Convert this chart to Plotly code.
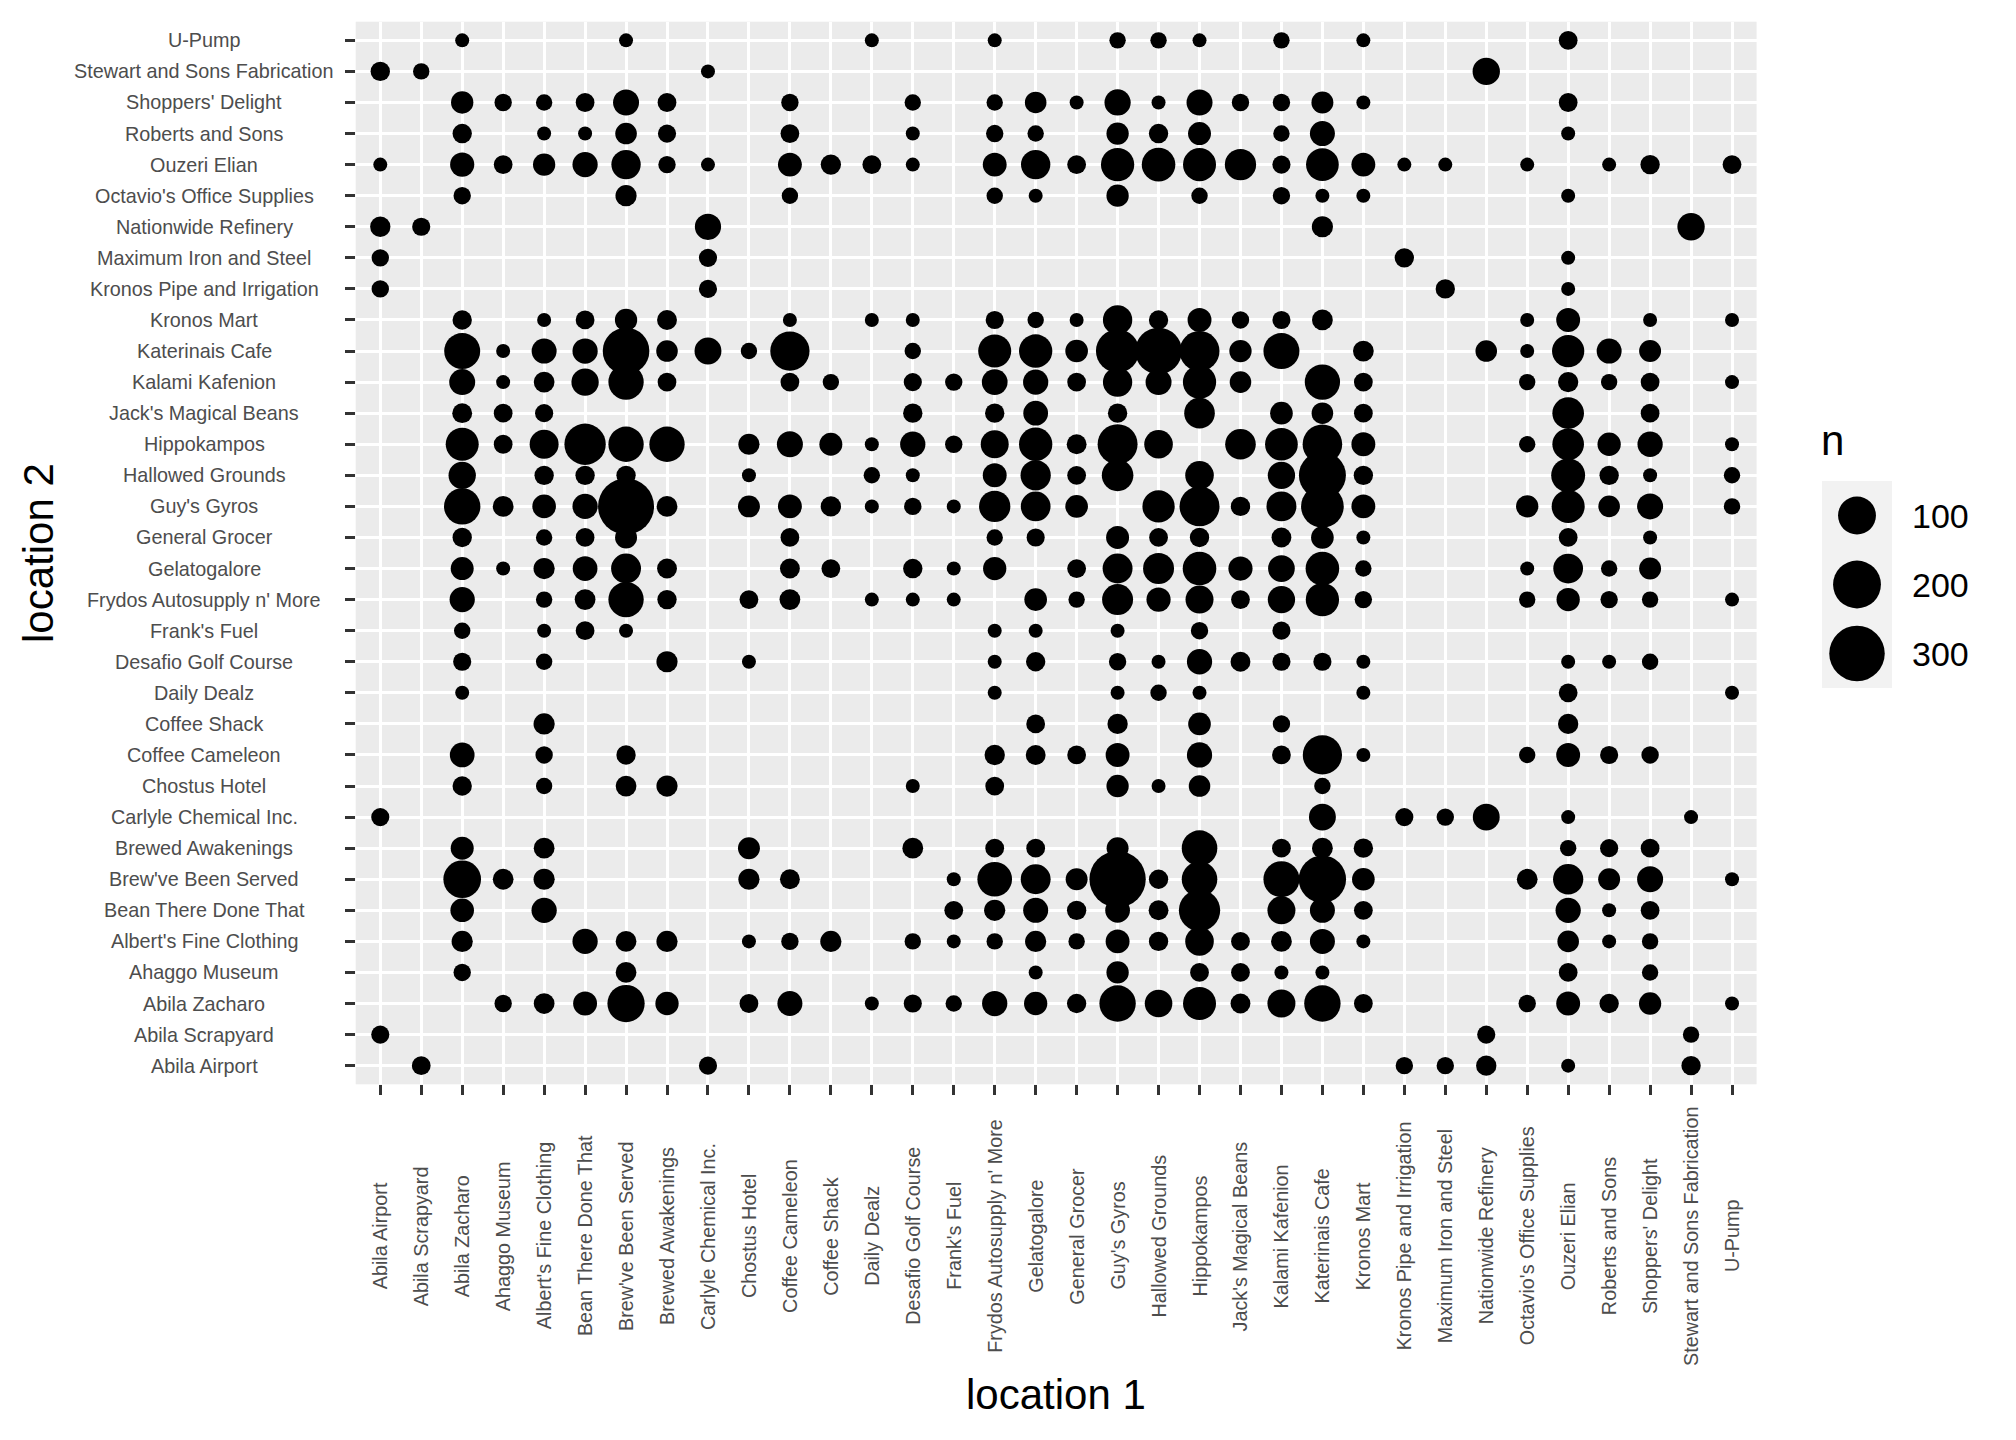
import math
import plotly.graph_objects as go

# ---------------- data ----------------
locations = ["Abila Airport", "Abila Scrapyard", "Abila Zacharo", "Ahaggo Museum",
             "Albert's Fine Clothing", "Bean There Done That", "Brew've Been Served",
             "Brewed Awakenings", "Carlyle Chemical Inc.", "Chostus Hotel", "Coffee Cameleon",
             "Coffee Shack", "Daily Dealz", "Desafio Golf Course", "Frank's Fuel",
             "Frydos Autosupply n' More", "Gelatogalore", "General Grocer", "Guy's Gyros",
             "Hallowed Grounds", "Hippokampos", "Jack's Magical Beans", "Kalami Kafenion",
             "Katerinais Cafe", "Kronos Mart", "Kronos Pipe and Irrigation",
             "Maximum Iron and Steel", "Nationwide Refinery", "Octavio's Office Supplies",
             "Ouzeri Elian", "Roberts and Sons", "Shoppers' Delight",
             "Stewart and Sons Fabrication", "U-Pump"]

# counts per location 2 (row); keys = index of location 1 in `locations`
row_abila_airport = {1: 5, 8: 4, 25: 3, 26: 3, 27: 8, 29: 1, 32: 6}
row_abila_scrapyard = {0: 4, 27: 4, 32: 2}
row_abila_zacharo = {3: 3, 4: 9, 5: 18, 6: 95, 7: 16, 9: 5, 10: 22, 12: 1, 13: 4, 14: 2, 15: 23,
                     16: 16, 17: 6, 18: 88, 19: 33, 20: 64, 21: 7, 22: 35, 23: 88, 24: 5, 28: 3,
                     29: 18, 30: 6, 31: 13, 33: 1}
row_ahaggo_museum = {2: 3, 6: 9, 16: 1, 18: 13, 20: 5, 21: 5, 22: 1, 23: 1, 29: 5, 31: 2}
row_alberts = {2: 10, 5: 23, 6: 9, 7: 10, 9: 1, 10: 3, 11: 10, 13: 2, 14: 1, 15: 2, 16: 10,
               17: 2, 18: 18, 19: 6, 20: 38, 21: 5, 22: 9, 23: 22, 24: 1, 29: 11, 30: 1, 31: 2}
row_bean_there = {2: 17, 4: 23, 14: 5, 15: 10, 16: 22, 17: 6, 18: 21, 19: 7, 20: 131, 22: 35,
                  23: 22, 24: 5, 29: 23, 30: 1, 31: 5}
row_brewve = {2: 98, 3: 9, 4: 10, 9: 10, 10: 7, 14: 1, 15: 75, 16: 45, 17: 12, 18: 312, 19: 6,
              20: 82, 22: 85, 23: 194, 24: 14, 28: 9, 29: 47, 30: 12, 31: 26, 33: 1}
row_brewed_awakenings = {2: 15, 4: 9, 9: 12, 13: 9, 15: 5, 16: 5, 18: 12, 20: 82, 22: 5, 23: 9,
                         24: 6, 29: 2, 30: 4, 31: 5}
row_carlyle = {0: 4, 23: 30, 25: 4, 26: 3, 27: 30, 29: 1, 32: 1}
row_chostus = {2: 6, 4: 2, 6: 9, 7: 10, 13: 1, 15: 5, 18: 13, 19: 1, 20: 11, 23: 2}
row_coffee_cameleon = {2: 21, 4: 3, 6: 6, 15: 8, 16: 7, 17: 5, 18: 18, 20: 23, 22: 5, 23: 112,
                       24: 1, 28: 2, 29: 18, 30: 4, 31: 3}
row_coffee_shack = {4: 10, 16: 5, 18: 8, 20: 14, 22: 3, 29: 8}
row_daily_dealz = {2: 1, 15: 1, 18: 1, 19: 2, 20: 1, 24: 1, 29: 5, 33: 1}
row_desafio = {2: 4, 4: 2, 7: 10, 9: 1, 15: 1, 16: 6, 18: 3, 19: 1, 20: 23, 21: 7, 22: 4, 23: 4,
               24: 1, 29: 1, 30: 1, 31: 2}
row_franks_fuel = {2: 2, 4: 1, 5: 5, 6: 1, 15: 1, 16: 1, 18: 1, 20: 3, 22: 4}
row_frydos = {2: 23, 4: 2, 5: 9, 6: 80, 7: 6, 9: 5, 10: 9, 12: 1, 13: 1, 14: 1, 16: 14, 17: 2,
              18: 51, 19: 19, 20: 35, 21: 5, 22: 32, 23: 66, 24: 3, 28: 2, 29: 16, 30: 3, 31: 2,
              33: 1}
row_gelatogalore = {2: 15, 3: 1, 4: 10, 5: 21, 6: 45, 7: 7, 10: 7, 11: 5, 13: 6, 14: 1, 15: 16,
                    17: 5, 18: 45, 19: 51, 20: 68, 21: 19, 22: 29, 23: 68, 24: 2, 28: 1, 29: 44,
                    30: 2, 31: 12}
row_general_grocer = {2: 6, 4: 2, 5: 5, 6: 12, 10: 5, 15: 2, 16: 4, 18: 15, 19: 5, 20: 6, 22: 7,
                      23: 14, 24: 1, 29: 5, 31: 1}
row_guys_gyros = {2: 88, 3: 9, 4: 17, 5: 23, 6: 307, 7: 9, 9: 12, 10: 18, 11: 8, 12: 1, 13: 3,
                  14: 1, 15: 53, 16: 44, 17: 14, 19: 59, 20: 118, 21: 6, 22: 45, 23: 144, 24: 18,
                  28: 13, 29: 64, 30: 11, 31: 26, 33: 2}
row_hallowed = {2: 32, 4: 6, 5: 6, 6: 6, 9: 1, 12: 2, 13: 1, 15: 18, 16: 47, 17: 5, 18: 55,
                20: 38, 22: 32, 23: 190, 24: 6, 29: 70, 30: 6, 31: 1, 33: 2}
row_hippokampos = {2: 64, 3: 5, 4: 40, 5: 131, 6: 80, 7: 80, 9: 10, 10: 26, 11: 15, 12: 1, 13: 23,
                   14: 3, 15: 35, 16: 66, 17: 7, 18: 118, 19: 38, 21: 49, 22: 62, 23: 115, 24: 18,
                   28: 2, 29: 55, 30: 16, 31: 23, 33: 1}
row_jacks = {2: 7, 3: 5, 4: 4, 13: 6, 15: 6, 16: 21, 18: 6, 20: 49, 22: 14, 23: 11, 24: 5, 29: 55,
             31: 5}
row_kalami = {2: 26, 3: 1, 4: 9, 5: 32, 6: 80, 7: 5, 10: 5, 11: 2, 13: 4, 14: 3, 15: 25, 16: 23,
              17: 5, 18: 42, 19: 26, 20: 66, 21: 11, 23: 80, 24: 5, 28: 2, 29: 8, 30: 2, 31: 5,
              33: 1}
row_katerinais = {2: 85, 3: 1, 4: 22, 5: 23, 6: 186, 7: 11, 8: 30, 9: 2, 10: 112, 13: 2, 15: 64,
                  16: 66, 17: 14, 18: 150, 19: 186, 20: 118, 21: 13, 22: 85, 24: 9, 27: 11, 28: 1,
                  29: 59, 30: 22, 31: 12}
row_kronos_mart = {2: 6, 4: 1, 5: 5, 6: 13, 7: 7, 10: 1, 12: 1, 13: 1, 15: 4, 16: 2, 17: 1,
                   18: 42, 19: 6, 20: 18, 21: 3, 22: 4, 23: 9, 28: 1, 29: 18, 31: 1, 33: 1}
row_kronos_pipe = {0: 3, 8: 4, 26: 6, 29: 1}
row_maximum_iron = {0: 3, 8: 4, 25: 6, 29: 1}
row_nationwide = {0: 8, 1: 4, 8: 27, 23: 10, 32: 32}
row_octavios = {2: 3, 6: 10, 10: 2, 15: 2, 16: 1, 18: 13, 20: 2, 22: 3, 23: 1, 24: 1, 29: 1}
row_ouzeri = {0: 1, 2: 19, 3: 5, 4: 13, 5: 23, 6: 42, 7: 3, 8: 1, 10: 18, 11: 8, 12: 5, 13: 1,
              15: 18, 16: 42, 17: 5, 18: 66, 19: 68, 20: 64, 21: 53, 22: 4, 23: 62, 24: 18, 25: 1,
              26: 1, 28: 1, 30: 1, 31: 6, 33: 5}
row_roberts = {2: 6, 4: 1, 5: 1, 6: 11, 7: 4, 10: 5, 13: 1, 15: 3, 16: 2, 18: 13, 19: 6, 20: 15,
               22: 2, 23: 22, 29: 1}
row_shoppers = {2: 13, 3: 3, 4: 2, 5: 5, 6: 26, 7: 5, 10: 3, 13: 2, 15: 2, 16: 11, 17: 1, 18: 27,
                19: 1, 20: 26, 21: 3, 22: 3, 23: 12, 24: 1, 29: 5}
row_stewart = {0: 6, 1: 2, 8: 1, 27: 32}
row_u_pump = {2: 1, 6: 1, 12: 1, 15: 1, 18: 2, 19: 2, 20: 1, 22: 2, 24: 1, 29: 5}

rows = [row_abila_airport, row_abila_scrapyard, row_abila_zacharo, row_ahaggo_museum,
        row_alberts, row_bean_there, row_brewve, row_brewed_awakenings, row_carlyle,
        row_chostus, row_coffee_cameleon, row_coffee_shack, row_daily_dealz, row_desafio,
        row_franks_fuel, row_frydos, row_gelatogalore, row_general_grocer, row_guys_gyros,
        row_hallowed, row_hippokampos, row_jacks, row_kalami, row_katerinais, row_kronos_mart,
        row_kronos_pipe, row_maximum_iron, row_nationwide, row_octavios, row_ouzeri,
        row_roberts, row_shoppers, row_stewart, row_u_pump]

legend_breaks = [100, 200, 300]

# ---------------- styling / layout ----------------
W, H = 2016, 1440
L, R, T, B = 355.7, 1756.6, 21.7, 1084.3
FONT = "Liberation Sans, Arial, Helvetica, sans-serif"


def marker_size(n):
    return 14 + 2.4 * math.sqrt(max(n - 1, 0))


xs, ys, ns = [], [], []
for j, row in enumerate(rows):
    for i, n in row.items():
        xs.append(locations[i])
        ys.append(locations[j])
        ns.append(n)

fig = go.Figure()
fig.add_trace(go.Scatter(
    x=xs, y=ys, mode="markers",
    marker=dict(size=[marker_size(n) for n in ns], color="black", opacity=1,
                line=dict(width=0)),
    customdata=ns, hovertemplate="%{x} / %{y}: %{customdata}<extra></extra>",
    showlegend=False))

# size legend drawn in its own small subplot
fig.add_trace(go.Scatter(
    x=[0.5] * len(legend_breaks), y=[2.5 - k for k in range(len(legend_breaks))],
    xaxis="x2", yaxis="y2", mode="markers",
    marker=dict(size=[marker_size(v) for v in legend_breaks], color="black", opacity=1,
                line=dict(width=0)),
    hoverinfo="skip", showlegend=False))

axis_common = dict(type="category", categoryorder="array", categoryarray=locations,
                   range=[-0.6, len(locations) - 0.4], showgrid=True, gridcolor="white",
                   gridwidth=2.8, ticks="outside", ticklen=10, tickwidth=3,
                   tickcolor="#333333", showticklabels=False, zeroline=False,
                   showline=False, fixedrange=True)

key_x0, key_x1, key_y0, key_y1 = 1822, 1892, 481, 688

fig.update_layout(
    width=W, height=H, margin=dict(l=0, r=0, t=0, b=0),
    paper_bgcolor="white", plot_bgcolor="#EBEBEB",
    font=dict(family=FONT, color="black"),
    xaxis=dict(domain=[L / W, R / W], **axis_common),
    yaxis=dict(domain=[1 - B / H, 1 - T / H], **axis_common),
    xaxis2=dict(domain=[key_x0 / W, key_x1 / W], range=[0, 1], visible=False, fixedrange=True),
    yaxis2=dict(domain=[1 - key_y1 / H, 1 - key_y0 / H], range=[0, 3], visible=False,
                fixedrange=True),
    showlegend=False,
)

fig.add_shape(type="rect", xref="paper", yref="paper",
              x0=key_x0 / W, x1=key_x1 / W, y0=1 - key_y1 / H, y1=1 - key_y0 / H,
              fillcolor="#F2F2F2", line=dict(width=0), layer="below")

ann = []
# y tick labels (centred)
for loc in locations:
    ann.append(dict(x=204 / W, xref="paper", y=loc, yref="y", text=loc, showarrow=False,
                    xanchor="center", yanchor="middle",
                    font=dict(size=19.8, color="#4D4D4D", family=FONT)))
# x tick labels (rotated, centred)
for loc in locations:
    ann.append(dict(x=loc, xref="x", y=1 - 1236 / H, yref="paper", text=loc, showarrow=False,
                    textangle=-90, xanchor="center", yanchor="middle",
                    font=dict(size=19.8, color="#4D4D4D", family=FONT)))
# axis titles
ann.append(dict(x=(L + R) / 2 / W, xref="paper", y=1 - 1394 / H, yref="paper",
                text="location 1", showarrow=False, xanchor="center", yanchor="middle",
                font=dict(size=42, color="black", family=FONT)))
ann.append(dict(x=38 / W, xref="paper", y=1 - (T + B) / 2 / H, yref="paper",
                text="location 2", showarrow=False, textangle=-90,
                xanchor="center", yanchor="middle",
                font=dict(size=42, color="black", family=FONT)))
# legend title and labels
ann.append(dict(x=1819 / W, xref="paper", y=1 - 440 / H, yref="paper", text="n",
                showarrow=False, xanchor="left", yanchor="middle",
                font=dict(size=42, color="black", family=FONT)))
for k, v in enumerate(legend_breaks):
    ann.append(dict(x=1910 / W, xref="paper", y=2.5 - k, yref="y2", text=str(v),
                    showarrow=False, xanchor="left", yanchor="middle",
                    font=dict(size=34, color="black", family=FONT)))
fig.update_layout(annotations=ann)

fig.write_html("out.html")
